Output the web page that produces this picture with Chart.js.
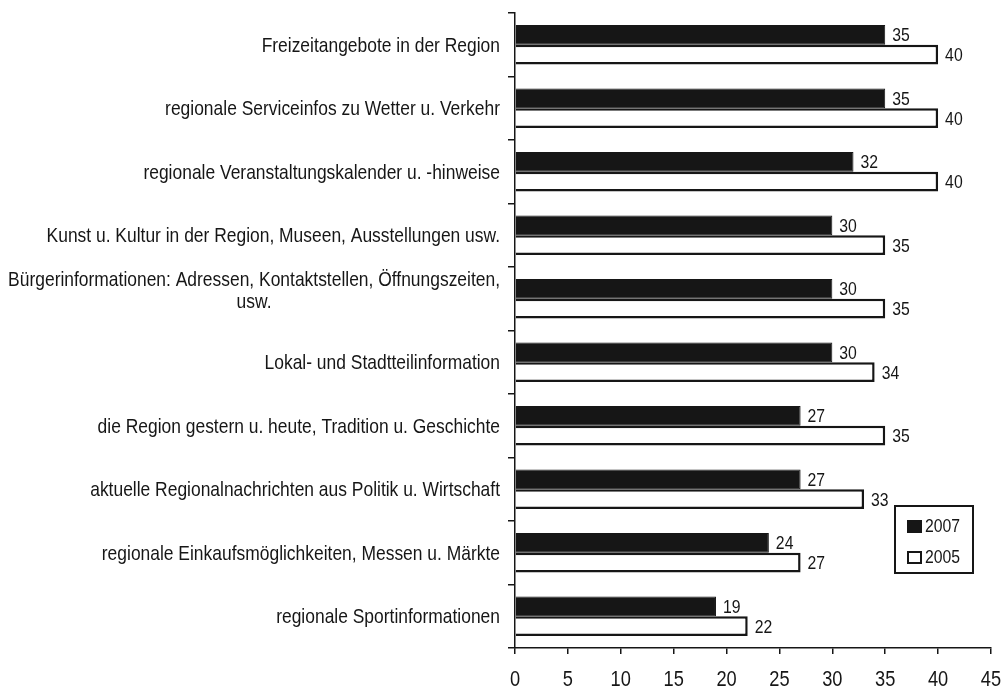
<!DOCTYPE html>
<html>
<head>
<meta charset="utf-8">
<script src="https://cdn.jsdelivr.net/npm/chart.js@4/dist/chart.umd.min.js"></script>
<style>
body { margin: 0; background: #fff; }
#canvas-holder { position: relative; width: 1003px; height: 688px; }
</style>
</head>
<body>
<div id="canvas-holder"><canvas id="chart-area"></canvas></div>
<script>
var categories = [
    'Freizeitangebote in der Region',
    'regionale Serviceinfos zu Wetter u. Verkehr',
    'regionale Veranstaltungskalender u. -hinweise',
    'Kunst u. Kultur in der Region, Museen, Ausstellungen usw.',
    ['Bürgerinformationen: Adressen, Kontaktstellen, Öffnungszeiten,', 'usw.'],
    'Lokal- und Stadtteilinformation',
    'die Region gestern u. heute, Tradition u. Geschichte',
    'aktuelle Regionalnachrichten aus Politik u. Wirtschaft',
    'regionale Einkaufsmöglichkeiten, Messen u. Märkte',
    'regionale Sportinformationen'
];
var seriesNames = ['2007', '2005'];
var values2007 = [35, 35, 32, 30, 30, 30, 27, 27, 24, 19];
var values2005 = [40, 40, 40, 35, 35, 34, 35, 33, 27, 22];
var xMin = 0, xMax = 45, xStep = 5;

var FONT = '"Liberation Sans", Arial, sans-serif';
var INK = '#161616';
var NARROW = 0.83; // squeeze the regular face to a narrow look

// text drawn with a horizontal squeeze; returns the drawn width
var narrowText = function (ctx, text, x, y, align) {
    ctx.save();
    ctx.translate(x, y);
    ctx.scale(NARROW, 1);
    ctx.textAlign = align;
    ctx.fillText(text, 0, 0);
    ctx.restore();
};
var narrowWidth = function (ctx, text) {
    return ctx.measureText(text).width * NARROW;
};

// category names, right aligned; wrapped names are centred as a block
var categoryLabels = {
    id: 'categoryLabels',
    afterDraw: function (chart) {
        var ctx = chart.ctx, yScale = chart.scales.y;
        ctx.save();
        ctx.font = '21px ' + FONT;
        ctx.fillStyle = INK;
        ctx.textBaseline = 'alphabetic';
        chart.data.labels.forEach(function (label, i) {
            var lines = [].concat(label);
            var y = yScale.getPixelForValue(i);
            var widest = 0;
            lines.forEach(function (l) { widest = Math.max(widest, narrowWidth(ctx, l)); });
            var lineH = 22;
            var base = y + 7;
            if (lines.length > 1) base = base - 9 - (lines.length - 1) * lineH / 2;
            var cx = yScale.right - 15 - widest / 2;
            lines.forEach(function (l, k) {
                narrowText(ctx, l, cx, base + k * lineH, 'center');
            });
        });
        ctx.restore();
    }
};

// x tick numbers under the axis
var xTickLabels = {
    id: 'xTickLabels',
    afterDraw: function (chart) {
        var ctx = chart.ctx, xScale = chart.scales.x;
        ctx.save();
        ctx.font = '22px ' + FONT;
        ctx.fillStyle = INK;
        ctx.textBaseline = 'alphabetic';
        xScale.ticks.forEach(function (t) {
            narrowText(ctx, String(t.value), xScale.getPixelForValue(t.value), 686, 'center');
        });
        ctx.restore();
    }
};

// value printed just past the end of each bar
var valueLabels = {
    id: 'valueLabels',
    afterDatasetsDraw: function (chart) {
        var ctx = chart.ctx;
        ctx.save();
        ctx.font = '19px ' + FONT;
        ctx.fillStyle = INK;
        ctx.textBaseline = 'alphabetic';
        chart.data.datasets.forEach(function (ds, i) {
            chart.getDatasetMeta(i).data.forEach(function (bar, j) {
                narrowText(ctx, String(ds.data[j]), bar.x + 7, bar.y + 6.5, 'left');
            });
        });
        ctx.restore();
    }
};

// boxed legend in the lower right corner
var boxLegend = {
    id: 'boxLegend',
    afterDraw: function (chart) {
        var ctx = chart.ctx;
        var x0 = 895, y0 = 506, w = 78, h = 67;
        ctx.save();
        ctx.fillStyle = '#fff';
        ctx.fillRect(x0, y0, w, h);
        ctx.lineWidth = 2;
        ctx.strokeStyle = INK;
        ctx.strokeRect(x0, y0, w, h);
        ctx.font = '19px ' + FONT;
        ctx.textBaseline = 'alphabetic';
        chart.data.datasets.forEach(function (ds, i) {
            var base = 532 + i * 31;
            ctx.fillStyle = ds.backgroundColor;
            ctx.fillRect(908, base - 11, 13, 11);
            ctx.lineWidth = 2;
            ctx.strokeStyle = INK;
            ctx.strokeRect(908, base - 11, 13, 11);
            ctx.fillStyle = INK;
            narrowText(ctx, ds.label, 925, base, 'left');
        });
        ctx.restore();
    }
};

var config = {
    type: 'bar',
    data: {
        labels: categories,
        datasets: [{
            label: seriesNames[0],
            data: values2007,
            backgroundColor: INK,
            borderColor: INK,
            borderWidth: 1
        }, {
            label: seriesNames[1],
            data: values2005,
            backgroundColor: '#ffffff',
            borderColor: INK,
            borderWidth: 2.5
        }]
    },
    options: {
        indexAxis: 'y',
        responsive: true,
        maintainAspectRatio: false,
        animation: false,
        categoryPercentage: 0.62,
        barPercentage: 1,
        layout: {padding: {top: 13, right: 12, left: 0, bottom: 0}},
        plugins: {legend: {display: false}, tooltip: {enabled: false}},
        scales: {
            x: {
                min: xMin,
                max: xMax,
                ticks: {stepSize: xStep, display: false},
                grid: {drawOnChartArea: false, tickLength: 6, color: INK, lineWidth: 1.5},
                border: {color: INK, width: 1.5},
                afterFit: function (scale) { scale.height = 40; }
            },
            y: {
                ticks: {display: false},
                grid: {drawOnChartArea: false, offset: true, tickLength: 7, color: INK, lineWidth: 1.5},
                border: {color: INK, width: 1.5},
                afterFit: function (scale) { scale.width = 515; }
            }
        }
    },
    plugins: [categoryLabels, xTickLabels, valueLabels, boxLegend]
};

var ctx = document.getElementById('chart-area').getContext('2d');
var myChart = new Chart(ctx, config);
</script>
</body>
</html>
